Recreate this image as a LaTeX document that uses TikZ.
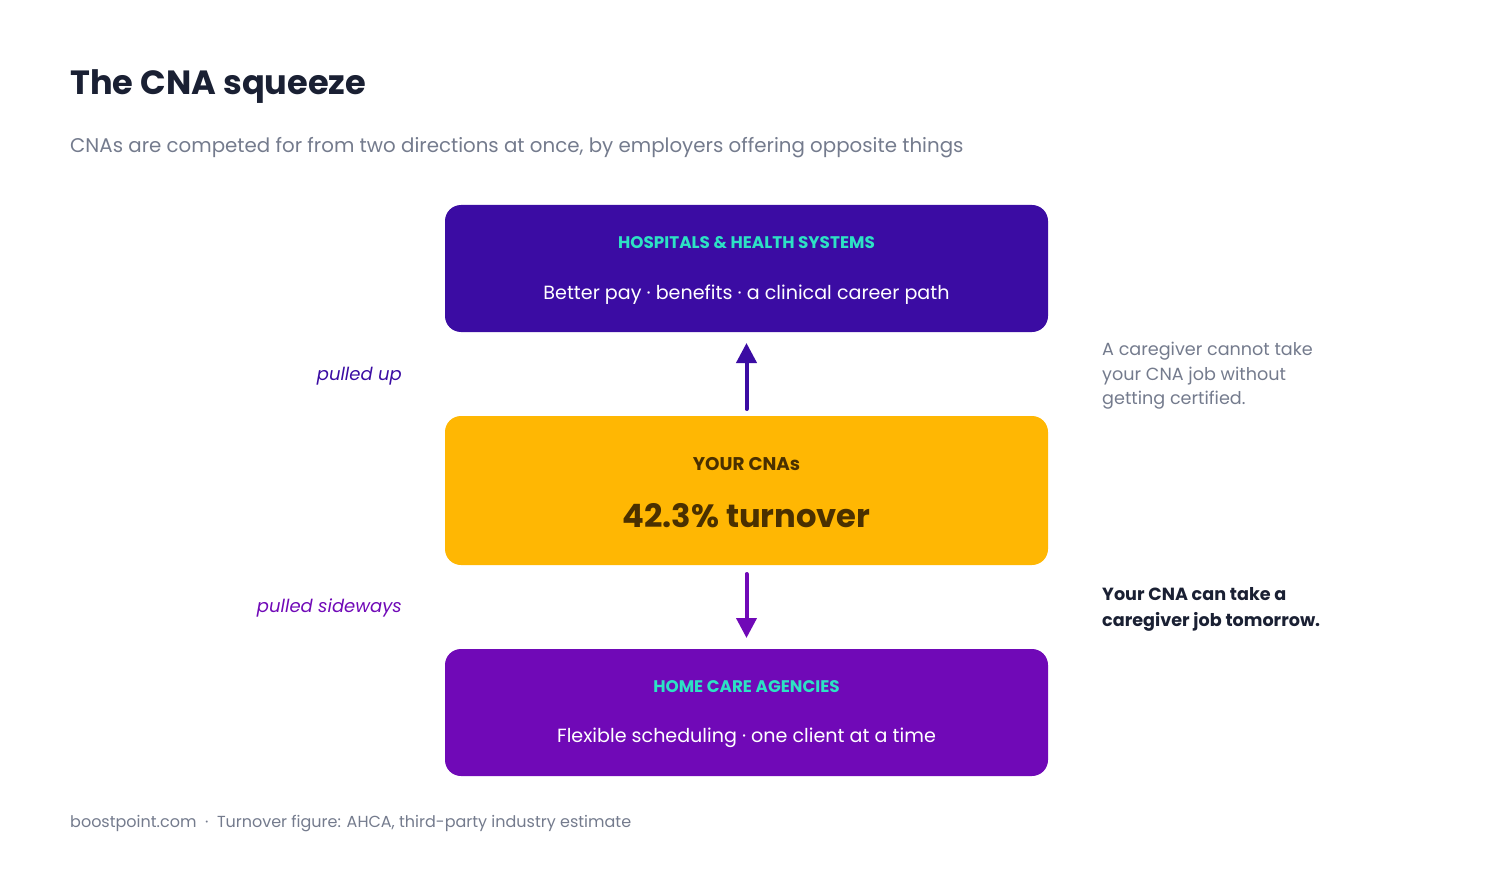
\documentclass[tikz,border=0pt]{standalone}
\usepackage{fontspec}
\setmainfont{Poppins}
\usetikzlibrary{arrows.meta}
\definecolor{indigo}{HTML}{3B0CA3}
\definecolor{purp}{HTML}{7009B7}
\definecolor{amber}{HTML}{FFB703}
\definecolor{teal}{HTML}{2DE2C4}
\definecolor{brownt}{HTML}{4A3000}
\definecolor{ink}{HTML}{1A2033}
\definecolor{grayt}{HTML}{747B8D}
\tikzset{
  box/.style={rounded corners=16pt, minimum width=603pt, minimum height=127pt, inner sep=0pt, draw=none},
  head/.style={font=\fontsize{16.8}{19}\selectfont\bfseries, text=teal, anchor=base, inner sep=0pt},
  body/.style={font=\fontsize{19.1}{23}\selectfont, text=white, anchor=base, inner sep=0pt},
  side/.style={font=\fontsize{18}{22}\selectfont\itshape, anchor=base east, inner sep=0pt},
  note/.style={font=\fontsize{17.6}{24.5}\selectfont, text=grayt, anchor=north west, align=left, inner sep=0pt},
  pull/.style={line width=4pt, -{Triangle[length=20pt,width=20pt]}, line cap=round},
}
\begin{document}
\begin{tikzpicture}[x=1pt,y=-1pt]
\useasboundingbox (0,0) rectangle (1493,877);
\node[anchor=base west, inner sep=0pt, font=\fontsize{33.6}{40}\selectfont\bfseries, text=ink] (title) at (70,95) {The CNA squeeze};
\node[anchor=base west, inner sep=0pt, font=\fontsize{19.8}{24}\selectfont, text=grayt] (sub) at (70,153) {CNAs are competed for from two directions at once, by employers offering opposite things};

\node[box, fill=indigo] (hosp) at (746.5,268.5) {};
\node[head] (hosph) at (746.5,249) {HOSPITALS \& HEALTH SYSTEMS};
\node[body] (hospb) at (746.5,299) {Better pay · benefits · a clinical career path};

\node[box, fill=amber, minimum height=149pt] (cna) at (746.5,490.5) {};
\node[anchor=base, inner sep=0pt, font=\fontsize{18.4}{22}\selectfont\bfseries, text=brownt] (cnah) at (746.5,470.5) {YOUR CNAs};
\node[anchor=base, inner sep=0pt, font=\fontsize{32.2}{38}\selectfont\bfseries, text=brownt] (cnab) at (746.5,527) {42.3\% turnover};

\node[box, fill=purp] (home) at (746.5,712.5) {};
\node[head] (homeh) at (746.5,692) {HOME CARE AGENCIES};
\node[body] (homeb) at (746.5,742) {Flexible scheduling · one client at a time};

\coordinate (upS) at (746.5,409);
\coordinate (upE) at (746.5,343);
\draw[pull, draw=indigo, fill=indigo] (upS) -- (upE);
\coordinate (dnS) at (746.5,574);
\coordinate (dnE) at (746.5,638);
\draw[pull, draw=purp, fill=purp] (dnS) -- (dnE);

\node[side, text=indigo] (pu) at (402,380) {pulled up};
\node[side, text=purp] (ps) at (402,612) {pulled sideways};

\node[note] (n1) at (1102,342) {A caregiver cannot take\\your CNA job without\\getting certified.};
\node[note, text=ink, font=\fontsize{17.6}{26}\selectfont\bfseries] (n2) at (1102,587) {Your CNA can take a\\caregiver job tomorrow.};

\node[anchor=base west, inner sep=0pt, font=\fontsize{16}{19}\selectfont, text=grayt] (foot) at (70,827) {boostpoint.com \ · \ Turnover figure: AHCA, third-party industry estimate};
\end{tikzpicture}
\end{document}
